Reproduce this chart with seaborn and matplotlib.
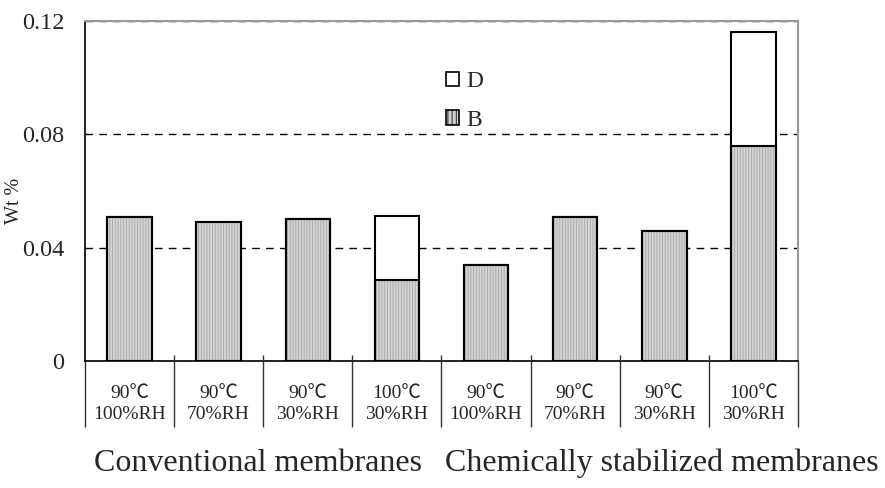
import matplotlib
matplotlib.use("Agg")
import matplotlib.pyplot as plt
from matplotlib.patches import Patch
import seaborn as sns
import pandas as pd

# Sample conditions (membrane type, temperature, relative humidity)
groups = ["Conventional membranes", "Chemically stabilized membranes"]
membrane = ["Conventional"] * 4 + ["Chemically stabilized"] * 4
temps = ["90℃", "90℃", "90℃", "100℃", "90℃", "90℃", "90℃", "100℃"]
humidity = ["100%RH", "70%RH", "30%RH", "30%RH", "100%RH", "70%RH", "30%RH", "30%RH"]

# Measured contents (Wt %)
b_vals = [0.051, 0.049, 0.050, 0.0285, 0.034, 0.051, 0.046, 0.076]
d_vals = [0.0, 0.0, 0.0, 0.0227, 0.0, 0.0, 0.0, 0.040]

y_ticks = [0, 0.04, 0.08, 0.12]
y_tick_labels = ["0", "0.04", "0.08", "0.12"]

sample_ids = [f"S{i + 1}" for i in range(len(b_vals))]
df = pd.DataFrame({
    "sample": sample_ids,
    "membrane": membrane,
    "B": b_vals,
    "D": d_vals,
})
df["total"] = df["B"] + df["D"]

sns.set_style("white")
plt.rcParams["font.family"] = ["Liberation Serif", "Noto Sans CJK JP"]
plt.rcParams["hatch.linewidth"] = 0.6

fig = plt.figure(figsize=(8.85, 4.88), dpi=100)
ax = fig.add_axes([0.096, 0.2602, 0.8057, 0.6967])

GRAY = "#d2d2d2"
HATCH_GRAY = "#a8a8a8"

# Upper segment (D) drawn as the full stack height in white
sns.barplot(data=df, x="sample", y="total", order=sample_ids, ax=ax,
            width=0.5, saturation=1, errorbar=None,
            color="white", edgecolor="black", linewidth=1.5, zorder=2)
# Lower segment (B): hatched fill
sns.barplot(data=df, x="sample", y="B", order=sample_ids, ax=ax,
            width=0.5, saturation=1, errorbar=None,
            color=GRAY, edgecolor=HATCH_GRAY, hatch="||||||", linewidth=0,
            zorder=3)
# Lower segment (B): outline
sns.barplot(data=df, x="sample", y="B", order=sample_ids, ax=ax,
            width=0.5, saturation=1, errorbar=None, fill=False,
            color="black", linewidth=1.5, zorder=4)

n = len(sample_ids)
ax.set_xlim(-0.5, n - 0.5)
ax.set_ylim(0, 0.12)

# Horizontal dashed grid
ax.set_yticks(y_ticks)
ax.set_yticklabels(y_tick_labels, fontsize=17.5)
ax.yaxis.grid(True, color="black", linestyle=(0, (5.5, 4.5)), linewidth=1.0)
ax.xaxis.grid(False)
ax.set_axisbelow(True)
ax.tick_params(axis="y", length=0, pad=15)

# Two-line category labels
ax.set_xticks(range(n))
ax.set_xticklabels([f"{t}\n{h}" for t, h in zip(temps, humidity)],
                   fontsize=14, linespacing=1.35)
ax.tick_params(axis="x", which="major", length=0, pad=17)
ax.set_xlabel("")

# Category separators: long ticks below the axis, short ticks inside
bounds = [i - 0.5 for i in range(n + 1)]
ax.set_xticks(bounds, minor=True)
ax.tick_params(axis="x", which="minor", bottom=True, direction="out",
               length=47.5, width=1.0, color="#333333")
ax.vlines(bounds[1:-1], 0, 6 / 340, transform=ax.get_xaxis_transform(),
          color="#333333", linewidth=1.0, zorder=5)

ax.set_ylabel("Wt %", fontsize=14.5)
ax.yaxis.set_label_coords(-0.085, 0.47)

for side in ["left", "bottom"]:
    ax.spines[side].set_color("black")
    ax.spines[side].set_linewidth(1.2)
for side in ["top", "right"]:
    ax.spines[side].set_visible(True)
    ax.spines[side].set_color("#999999")
    ax.spines[side].set_linewidth(1.5)

handles = [
    Patch(facecolor="white", edgecolor="black", linewidth=1.2, label="D"),
    Patch(facecolor=GRAY, edgecolor="black", linewidth=1.2, hatch="||||", label="B"),
]
ax.legend(handles=handles, loc="center left", bbox_to_anchor=(0.477, 0.765),
          frameon=False, fontsize=17, handlelength=0.55, handleheight=0.55,
          handletextpad=0.3, labelspacing=0.75)

fig.text(0.292, 0.051, groups[0], ha="center", va="center", fontsize=23)
fig.text(0.748, 0.051, groups[1], ha="center", va="center", fontsize=23)

fig.savefig("out.png", dpi=100)
